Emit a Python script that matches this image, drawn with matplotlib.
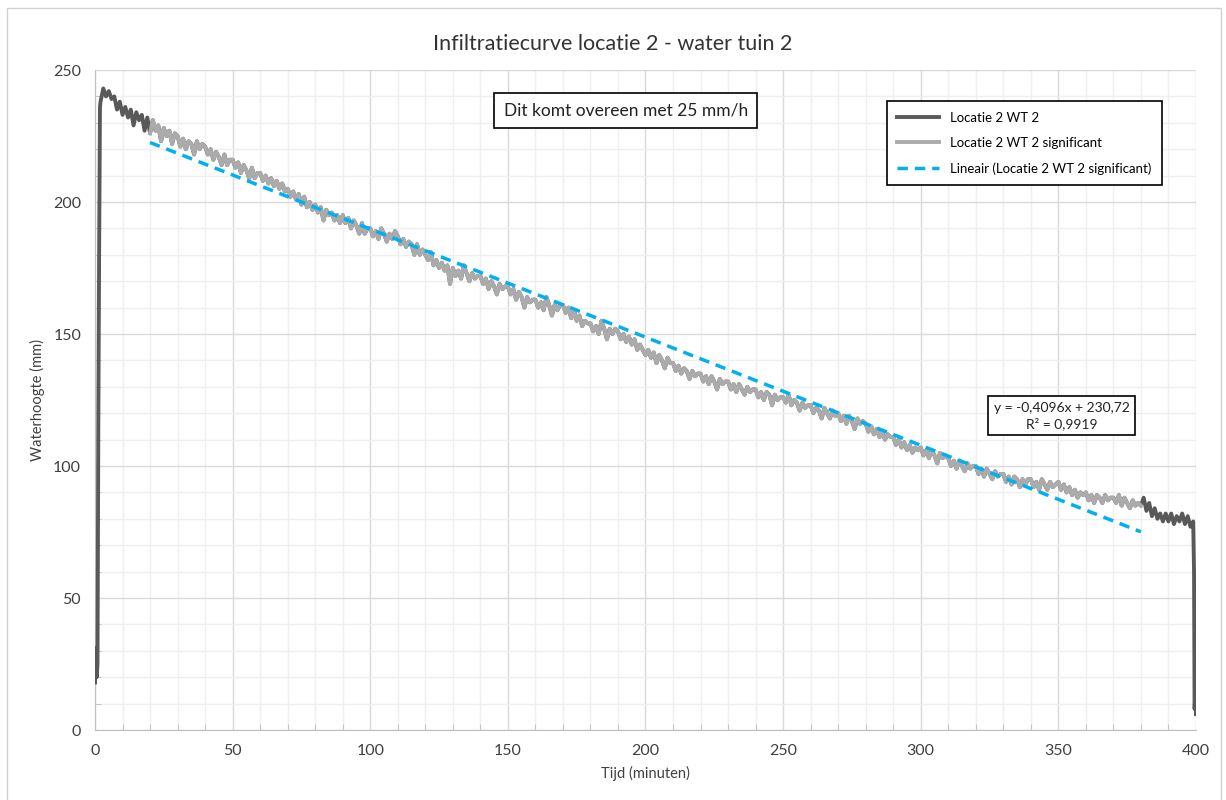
import matplotlib.pyplot as plt
import numpy as np
from matplotlib.patches import Rectangle
from matplotlib.ticker import MultipleLocator

plt.rcParams["font.family"] = ["Lato", "DejaVu Sans"]

# sensor placed in the pit and filled (sub-minute readings)
rise_time = [0.0, 0.3, 0.6, 0.9, 1.2, 1.5, 1.8]
rise_level = [18, 31, 20, 25, 116, 182, 236]

# one reading per minute, t = 2 .. 399
minute_time = np.arange(2, 400)
minute_level = [
    238, 243, 240, 242, 239, 240, 235, 238,
    233, 236, 232, 235, 229, 234, 231, 233, 227, 232,
    226, 231, 227, 229, 223, 228, 225, 227, 222, 226,
    225, 221, 224, 220, 223, 222, 218, 223, 220, 222,
    221, 218, 220, 216, 219, 217, 214, 218, 214, 216,
    216, 213, 215, 211, 214, 212, 209, 213, 209, 211,
    211, 208, 210, 207, 209, 206, 208, 205, 207, 204,
    205, 202, 204, 201, 203, 199, 202, 198, 200, 197,
    199, 196, 198, 193, 197, 195, 196, 193, 195, 192,
    195, 192, 194, 190, 193, 191, 188, 192, 188, 190,
    190, 187, 189, 186, 190, 188, 185, 188, 186, 189,
    187, 184, 186, 183, 185, 184, 180, 184, 180, 182,
    180, 178, 181, 176, 178, 175, 177, 174, 176, 169,
    175, 172, 174, 171, 176, 173, 170, 173, 171, 172,
    172, 169, 171, 167, 170, 168, 165, 169, 167, 168,
    168, 165, 167, 163, 166, 164, 160, 164, 162, 163,
    163, 160, 162, 159, 164, 161, 157, 161, 159, 161,
    161, 158, 160, 156, 159, 155, 157, 153, 155, 154,
    154, 151, 153, 150, 155, 152, 148, 152, 150, 152,
    151, 148, 150, 147, 149, 146, 148, 144, 146, 144,
    142, 144, 141, 143, 139, 142, 140, 137, 141, 139,
    139, 136, 138, 135, 137, 136, 133, 136, 134, 135,
    135, 132, 134, 131, 134, 132, 129, 133, 131, 132,
    132, 129, 131, 128, 131, 129, 127, 130, 128, 129,
    129, 126, 128, 125, 128, 127, 123, 127, 125, 126,
    126, 124, 127, 123, 125, 124, 121, 124, 122, 123,
    123, 120, 122, 121, 118, 122, 120, 118, 121, 119,
    120, 117, 119, 116, 119, 117, 114, 118, 116, 117,
    116, 113, 115, 112, 114, 111, 113, 110, 112, 111,
    111, 108, 110, 107, 109, 106, 108, 105, 107, 106,
    107, 104, 106, 103, 106, 104, 101, 105, 103, 104,
    103, 100, 102, 99, 102, 100, 98, 101, 99, 100,
    100, 97, 99, 96, 99, 97, 95, 98, 96, 97,
    97, 94, 96, 93, 96, 95, 92, 95, 93, 95,
    95, 92, 94, 91, 95, 93, 91, 94, 92, 93,
    94, 91, 93, 90, 92, 89, 91, 88, 90, 89,
    90, 87, 89, 86, 89, 88, 86, 89, 87, 88,
    88, 86, 89, 85, 88, 86, 84, 87, 85, 86,
    85, 88, 83, 86, 81, 84, 80, 82, 79, 82,
    79, 82, 78, 81, 79, 82, 78, 81, 77, 79,
]

# sensor taken out
drop_time = [399.3, 399.5, 399.7, 400.0]
drop_level = [60, 8, 12, 6]

sig_start, sig_end = 20, 380
trend_slope = -0.4096
trend_intercept = 230.72
trend_r2 = 0.9919

DARK = "#595959"
LIGHT = "#ababab"
BLUE = "#00b0f0"

time = np.concatenate([rise_time, minute_time, drop_time])
level = np.concatenate([rise_level, minute_level, drop_level])
sig = (time >= sig_start) & (time <= sig_end)

fig = plt.figure(figsize=(12.26, 8), dpi=100)
fig.patches.append(Rectangle((0.006, -0.01), 0.99, 1.0, transform=fig.transFigure,
                             fill=False, edgecolor="#d0d0d0", linewidth=1))
ax = fig.add_axes([0.0775, 0.0875, 0.898, 0.825])

ax.plot(time, level, color=DARK, linewidth=2.8, label="Locatie 2 WT 2", zorder=3)
ax.plot(time[sig], level[sig], color=LIGHT, linewidth=2.8,
        label="Locatie 2 WT 2 significant", zorder=4)
trend_x = np.array([time[sig].min(), time[sig].max()])
ax.plot(trend_x, trend_slope * trend_x + trend_intercept, color=BLUE, linewidth=2.5,
        linestyle=(0, (3, 2)), label="Lineair (Locatie 2 WT 2 significant)", zorder=5)

ax.set_xlim(0, 400)
ax.set_ylim(0, 250)
ax.xaxis.set_major_locator(MultipleLocator(50))
ax.xaxis.set_minor_locator(MultipleLocator(10))
ax.yaxis.set_major_locator(MultipleLocator(50))
ax.yaxis.set_minor_locator(MultipleLocator(10))
ax.grid(which="major", color="#d9d9d9", linewidth=1)
ax.grid(which="minor", color="#efefef", linewidth=1)
ax.set_axisbelow(True)
ax.tick_params(which="major", length=0, labelsize=11.5, colors="#404040", pad=10)
ax.tick_params(which="minor", length=4, direction="in", color="#bfbfbf")
for side in ("top", "right"):
    ax.spines[side].set_visible(False)
for side in ("left", "bottom"):
    ax.spines[side].set_color("#bfbfbf")

ax.set_xlabel("Tijd (minuten)", fontsize=10.5, color="#404040", labelpad=6)
ax.set_ylabel("Waterhoogte (mm)", fontsize=10.5, color="#404040", labelpad=6)
fig.suptitle("Infiltratiecurve locatie 2 - water tuin 2", y=0.957, fontsize=15.5, color="#333333")

leg = ax.legend(loc="upper right", bbox_to_anchor=(0.969, 0.953), borderaxespad=0,
                fancybox=False, edgecolor="black", framealpha=1, fontsize=9.5,
                handlelength=3.2, labelspacing=1.0, borderpad=0.8)
leg.get_frame().set_linewidth(1.2)

ax.text(0.482, 0.939, "Dit komt overeen met 25 mm/h", transform=ax.transAxes,
        ha="center", va="center", fontsize=12.5, color="#222222",
        bbox=dict(boxstyle="square,pad=0.55", facecolor="white", edgecolor="black", linewidth=1.2))

eq = f"y = {trend_slope:.4f}x + {trend_intercept:.2f}\nR² = {trend_r2:.4f}".replace(".", ",")
ax.text(0.878, 0.476, eq, transform=ax.transAxes, ha="center", va="center",
        fontsize=10, color="#222222", linespacing=1.3, zorder=6,
        bbox=dict(boxstyle="square,pad=0.4", facecolor="white", edgecolor="black", linewidth=1.2))

fig.savefig("out.png", dpi=100)
